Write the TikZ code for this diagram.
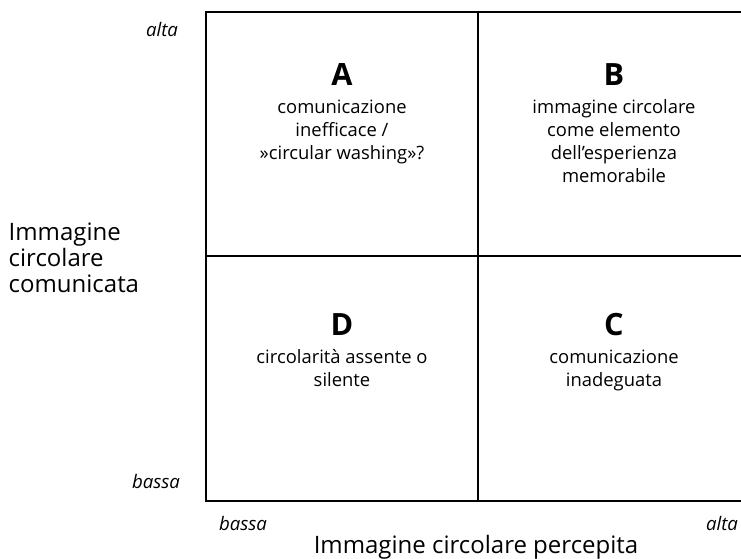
\documentclass[tikz,border=0pt]{standalone}
\usepackage{fontspec}
\setmainfont{Open Sans}
\begin{document}
\begin{tikzpicture}[x=0.75pt,y=-0.75pt,
  grid/.style={line width=2.2pt,line cap=rect},
  quadletter/.style={font=\fontsize{23}{26}\selectfont\bfseries},
  quadtext/.style={align=center,font=\fontsize{13.8}{17.3}\selectfont,anchor=north},
  axislabel/.style={font=\fontsize{18}{19.5}\selectfont},
  ticklabel/.style={font=\fontsize{14}{16}\selectfont\itshape}]
\useasboundingbox (0,0) rectangle (741,559);
\coordinate (tl) at (206,12);
\coordinate (br) at (750,501);
\coordinate (mt) at (478,12);
\coordinate (mb) at (478,501);
\coordinate (ml) at (206,256);
\coordinate (mr) at (750,256);
\draw[grid] (tl) rectangle (br);
\draw[grid] (mt) -- (mb);
\draw[grid] (ml) -- (mr);
% quadrant A
\node[quadletter] (A) at (342,75) {A};
\node[quadtext] (At) at (342,95) {comunicazione\\inefficace /\\»circular washing»?};
% quadrant B
\node[quadletter] (B) at (614,75) {B};
\node[quadtext] (Bt) at (614,95) {immagine circolare\\come elemento\\dell’esperienza\\memorabile};
% quadrant D
\node[quadletter] (D) at (342,325) {D};
\node[quadtext] (Dt) at (342,345) {circolarità assente o\\silente};
% quadrant C
\node[quadletter] (C) at (614,325) {C};
\node[quadtext] (Ct) at (614,345) {comunicazione\\inadeguata};
% axis labels
\node[ticklabel] (yhigh) at (162,30) {alta};
\node[ticklabel] (ylow) at (156,481) {bassa};
\node[ticklabel] (xlow) at (243,523) {bassa};
\node[ticklabel] (xhigh) at (722,523) {alta};
\node[axislabel,align=left,anchor=west] (ylab) at (4,258) {Immagine\\circolare\\comunicata};
\node[axislabel] (xlab) at (476,547) {Immagine circolare percepita};
\end{tikzpicture}
\end{document}
